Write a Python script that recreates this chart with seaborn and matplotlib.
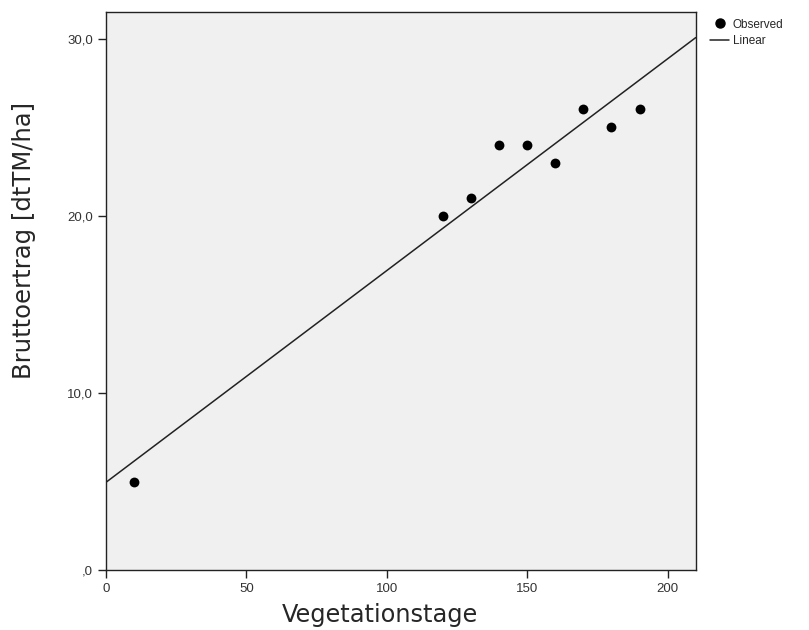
import numpy as np
import pandas as pd
import matplotlib
matplotlib.use("Agg")
import matplotlib.pyplot as plt
import seaborn as sns
from matplotlib.ticker import FuncFormatter
from matplotlib.lines import Line2D

vegetationstage = [10, 120, 130, 140, 150, 160, 170, 180, 190]
bruttoertrag = [5, 20, 21, 24, 24, 23, 26, 25, 26]

x_ticks = [0, 50, 100, 150, 200]
y_ticks = [0, 10, 20, 30]

df = pd.DataFrame({"Vegetationstage": vegetationstage,
                   "Bruttoertrag": bruttoertrag})

sns.set_style("ticks")
plt.rcParams["font.family"] = ["Liberation Sans", "DejaVu Sans"]

fig = plt.figure(figsize=(8.09, 6.30), dpi=100)
ax = fig.add_axes([0.131, 0.095, 0.729, 0.886])
ax.set_facecolor("#f0f0f0")
ax.set_xlim(0, 210)
ax.set_ylim(0, 31.5)

# scatter + linear fit over the full x range
sns.regplot(data=df, x="Vegetationstage", y="Bruttoertrag", ax=ax,
            ci=None, truncate=False,
            scatter_kws={"color": "black", "s": 50, "alpha": 1,
                         "linewidths": 0, "zorder": 3},
            line_kws={"color": "#222222", "linewidth": 1.1})

ax.set_xticks(x_ticks)
ax.set_yticks(y_ticks)
ax.yaxis.set_major_formatter(FuncFormatter(
    lambda v, p: ",0" if v == 0 else f"{v:.1f}".replace(".", ",")))
ax.tick_params(axis="both", direction="out", length=6, width=1,
               labelsize=9.5, colors="#222222", labelcolor="#333333")

for s in ax.spines.values():
    s.set_visible(True)
    s.set_color("#222222")
    s.set_linewidth(1.0)

# SPSS places the titles a bit off-centre
ax.set_xlabel("Vegetationstage", fontsize=17.3, family="DejaVu Sans")
ax.set_ylabel("Bruttoertrag [dtTM/ha]", fontsize=17.5, family="DejaVu Sans")
ax.xaxis.set_label_coords(0.464, -0.059)
ax.yaxis.set_label_coords(-0.118, 0.59)

handles = [
    Line2D([], [], marker="o", color="black", linestyle="none", markersize=6.5),
    Line2D([], [], color="#222222", linewidth=1.1),
]
leg = fig.legend(handles, ["Observed", "Linear"], loc="upper left",
                 bbox_to_anchor=(0.872, 0.978), frameon=False, fontsize=8.5,
                 handlelength=1.6, handletextpad=0.3, labelspacing=0.4,
                 borderaxespad=0)

fig.savefig("out.png", dpi=100, facecolor="white")
